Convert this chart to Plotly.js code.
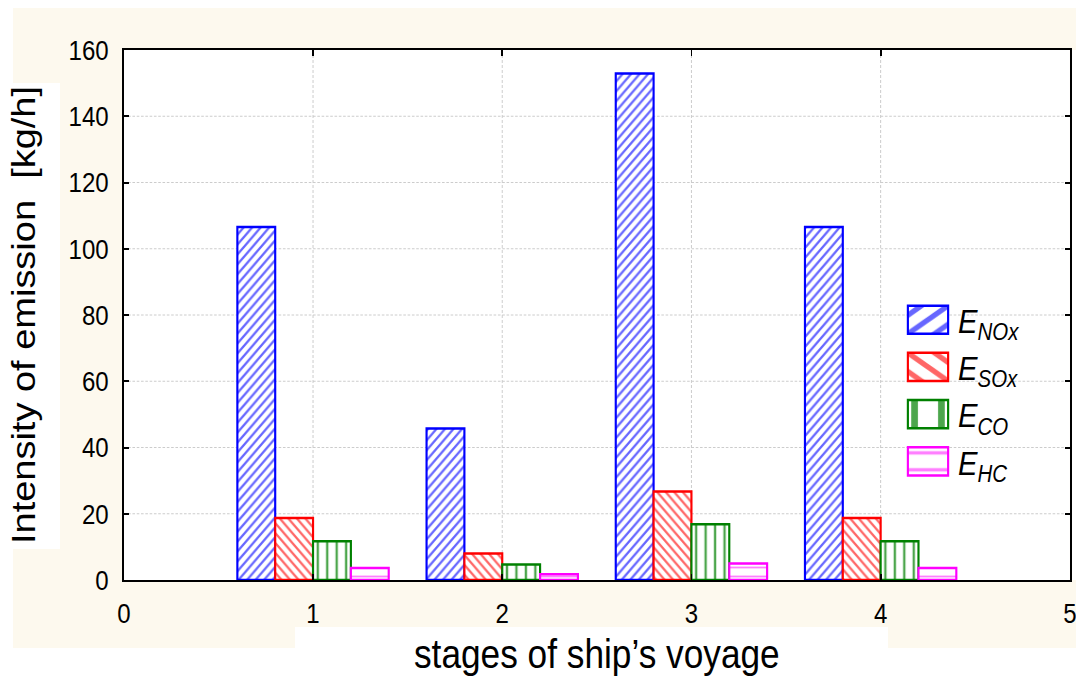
<!DOCTYPE html>
<html>
<head>
<meta charset="utf-8">
<script src="https://cdn.plot.ly/plotly-3.0.1.min.js"></script>
<style>
  html, body { margin: 0; padding: 0; background: #ffffff; }
  #wrap { position: relative; width: 1076px; height: 682px; overflow: hidden; background: #ffffff; }
  .bg { position: absolute; }
  #chart { position: absolute; left: 0; top: 0; transform-origin: 0 0; }
</style>
</head>
<body>
<div id="wrap">
  <div class="bg" style="left:13px; top:8px; width:1063px; height:640px; background:#fdf9ee;"></div>
  <div class="bg" style="left:0px; top:83px; width:60px; height:466px; background:#ffffff;"></div>
  <div class="bg" style="left:295px; top:627px; width:593px; height:55px; background:#ffffff;"></div>
  <div class="bg" style="left:1071px; top:50px; width:5px; height:530px; background:#ffffff;"></div>
  <div id="chart"></div>
</div>
<script>
// ---- data ----
var stages = [1, 2, 3, 4];
var eNOx = [106.6, 45.7, 152.9, 106.6];
var eSOx = [18.7, 8.0, 26.7, 18.7];
var eCO  = [11.7, 4.7, 16.8, 11.7];
var eHC  = [3.6, 1.7, 5.0, 3.6];
var seriesNames = ['<i>E<sub>NOx</sub></i>', '<i>E<sub>SOx</sub></i>', '<i>E<sub>CO</sub></i>', '<i>E<sub>HC</sub></i>'];
var xTickVals = [0, 1, 2, 3, 4, 5];
var yTickVals = [0, 20, 40, 60, 80, 100, 120, 140, 160];

var SX = 0.86;
var W0 = Math.round(1076 / SX);
var EXTRA = 40;
var W = W0 + EXTRA;
var H = 682;
var chart = document.getElementById('chart');
chart.style.width = W + 'px';
chart.style.height = H + 'px';
chart.style.transform = 'scaleX(' + SX + ')';

function mk(y, name, color, shape, size, sol, op) {
  return {
    type: 'bar', x: stages, y: y, name: name,
    marker: {
      color: '#ffffff',
      line: { color: color, width: 2.5 },
      pattern: { shape: shape, fgcolor: color, bgcolor: '#ffffff', size: size, solidity: sol, fgopacity: op }
    },
    hoverinfo: 'skip'
  };
}

var data = [
  mk(eNOx, seriesNames[0], '#0000ff', '/', 7, 0.35, 0.6),
  mk(eSOx, seriesNames[1], '#ff0000', '\\', 7, 0.35, 0.6),
  mk(eCO,  seriesNames[2], '#008000', '|', 11, 0.25, 0.7),
  mk(eHC,  seriesNames[3], '#ff00ff', '-', 9, 0.2, 0.5)
];

var fam = 'Liberation Sans, Arial, sans-serif';
var axisFont = { family: fam, size: 28, color: '#000000' };
var layout = {
  width: W, height: H,
  margin: { l: 144, r: 7 + EXTRA, t: 50, b: 102, pad: 0 },
  paper_bgcolor: 'rgba(0,0,0,0)',
  plot_bgcolor: '#ffffff',
  barmode: 'group', bargap: 0.2, bargroupgap: 0,
  showlegend: true,
  legend: {
    x: 0.82, y: 0.545, xanchor: 'left', yanchor: 'top',
    bgcolor: 'rgba(0,0,0,0)', borderwidth: 0,
    font: { family: fam, size: 34, color: '#000000' },
    itemwidth: 50, tracegroupgap: 0
  },
  xaxis: {
    range: [0, 5], tickvals: xTickVals, ticktext: xTickVals.map(String),
    showline: true, linecolor: '#000000', linewidth: 2, mirror: 'ticks',
    ticks: 'inside', ticklen: 6, tickwidth: 2, tickcolor: '#000000',
    showgrid: true, gridcolor: '#c8c8c8', gridwidth: 1, griddash: '3px,2px',
    zeroline: false, tickfont: axisFont, ticklabelstandoff: 7, ticklabeloverflow: 'allow',
    title: { text: 'stages of ship\u2019s voyage', font: { family: fam, size: 41, color: '#000000' }, standoff: 12 }
  },
  yaxis: {
    range: [0, 160], tickvals: yTickVals, ticktext: yTickVals.map(String),
    showline: true, linecolor: '#000000', linewidth: 2, mirror: 'ticks',
    ticks: 'inside', ticklen: 6, tickwidth: 2, tickcolor: '#000000',
    showgrid: true, gridcolor: '#c8c8c8', gridwidth: 1, griddash: '3px,2px',
    zeroline: false, tickfont: axisFont, ticklabelstandoff: 10, ticklabeloverflow: 'allow',
    title: { text: 'Intensity of emission  [kg/h]', font: { family: fam, size: 38, color: '#000000' }, standoff: 27 }
  }
};

Plotly.newPlot(chart, data, layout, { staticPlot: true, displayModeBar: false }).then(function () {
  // let the enlarged legend swatches show fully
  chart.querySelectorAll('.legend [clip-path]').forEach(function (el) { el.removeAttribute('clip-path'); });
  chart.querySelectorAll('.legend').forEach(function (el) { el.removeAttribute('clip-path'); });
  var SWX = 3.9, SWY = 2.35;           // swatch enlargement (approx 40x28 px on screen)
  var targetSwatchCenter = 928;         // screen x of swatch centre
  var targetTextLeft = 958;             // screen x of legend text start
  var items = chart.querySelectorAll('.legend .traces');
  items.forEach(function (it) {
    var p = it.querySelector('.legendpoints path');
    if (p) {
      var sc = 'scale(' + SWX + ',' + SWY + ')';
      p.setAttribute('transform', sc);
      p.style.vectorEffect = 'non-scaling-stroke';
      var r = p.getBoundingClientRect();
      var cx = r.left + r.width / 2;
      var dx = (targetSwatchCenter - cx) / SX;
      p.setAttribute('transform', 'translate(' + dx + ',0) ' + sc);
    }
    var t = it.querySelector('.legendtext');
    if (t) {
      var rt = t.getBoundingClientRect();
      var dtx = (targetTextLeft - rt.left) / SX;
      t.setAttribute('transform', 'translate(' + dtx + ',0)');
    }
  });
});
</script>
</body>
</html>
